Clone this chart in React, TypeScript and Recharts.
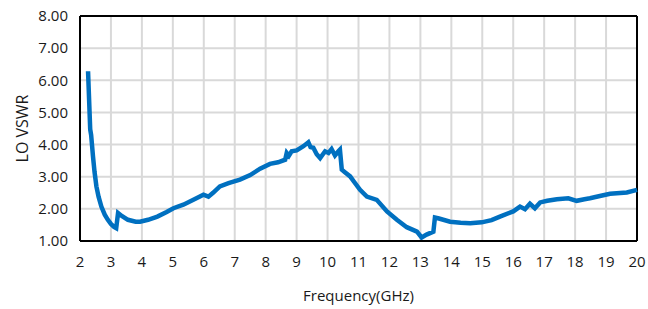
import React from "react";
import {
  LineChart,
  Line,
  XAxis,
  YAxis,
  CartesianGrid,
  ReferenceLine,
} from "recharts";

const freqGHz = [
  2.26, 2.33, 2.36, 2.42, 2.47, 2.53, 2.6, 2.69, 2.8, 2.9, 3.0, 3.1, 3.17,
  3.23, 3.35, 3.55, 3.8, 3.94, 4.2, 4.5, 4.8, 5.02, 5.34, 5.6, 5.99, 6.15,
  6.3, 6.52, 6.8, 7.17, 7.5, 7.82, 8.14, 8.4, 8.63, 8.68, 8.75, 8.84, 9.0,
  9.22, 9.38, 9.45, 9.54, 9.65, 9.76, 9.85, 9.92, 10.03, 10.13, 10.24, 10.35,
  10.4, 10.46, 10.55, 10.73, 10.85, 11.05, 11.27, 11.59, 11.92, 12.24, 12.56,
  12.89, 13.04, 13.2, 13.42, 13.47, 13.6, 13.96, 14.3, 14.61, 14.98, 15.3,
  15.57, 16.0, 16.22, 16.38, 16.54, 16.7, 16.87, 17.1, 17.41, 17.78, 18.05,
  18.3, 18.48, 18.8, 19.13, 19.67, 20,
];

const loVswr = [
  6.28, 4.47, 4.3, 3.63, 3.15, 2.7, 2.38, 2.07, 1.82, 1.66, 1.53, 1.44, 1.4,
  1.87, 1.78, 1.66, 1.6, 1.6, 1.66, 1.76, 1.9, 2.02, 2.13, 2.25, 2.44, 2.38,
  2.5, 2.7, 2.8, 2.91, 3.05, 3.25, 3.4, 3.45, 3.53, 3.74, 3.65, 3.79, 3.82,
  3.95, 4.07, 3.92, 3.9, 3.7, 3.58, 3.7, 3.79, 3.74, 3.86, 3.66, 3.79, 3.84,
  3.22, 3.15, 3.01, 2.85, 2.59, 2.38, 2.28, 1.92, 1.66, 1.43, 1.29, 1.11, 1.2,
  1.29, 1.73, 1.7, 1.6, 1.57, 1.55, 1.58, 1.65, 1.76, 1.92, 2.07, 1.99, 2.16,
  2.02, 2.2, 2.25, 2.3, 2.33, 2.25, 2.3, 2.33, 2.4, 2.47, 2.51, 2.59,
];

const xTicks = [2, 3, 4, 5, 6, 7, 8, 9, 10, 11, 12, 13, 14, 15, 16, 17, 18, 19, 20];
const yTicks = [1, 2, 3, 4, 5, 6, 7, 8];

const data = freqGHz.map((f, i) => ({ freq: f, vswr: loVswr[i] }));

const font = "'Open Sans', 'Noto Sans', sans-serif";

const App = () => {
  return (
    <div style={{ position: "absolute", left: 0, top: 0 }}>
      <LineChart
        width={648}
        height={309}
        data={data}
        margin={{ top: 16, right: 11, left: 0, bottom: 0 }}
        style={{ fontFamily: font }}
      >
        <CartesianGrid stroke="#d9d9d9" strokeWidth={2} />
        <XAxis
          dataKey="freq"
          type="number"
          domain={[2, 20]}
          ticks={xTicks}
          interval={0}
          height={68}
          tickSize={0}
          tickMargin={15}
          axisLine={{ stroke: "#000", strokeWidth: 2 }}
          tick={{ fill: "#1a1a1a", fontSize: 15 }}
          label={{
            value: "Frequency(GHz)",
            position: "insideBottom",
            offset: 8,
            fill: "#1a1a1a",
            fontSize: 15,
          }}
        />
        <YAxis
          type="number"
          domain={[1, 8]}
          ticks={yTicks}
          interval={0}
          width={80}
          tickSize={0}
          tickMargin={12}
          tickFormatter={(v: number) => v.toFixed(2)}
          axisLine={{ stroke: "#000", strokeWidth: 2 }}
          tick={{ fill: "#1a1a1a", fontSize: 15 }}
          label={{
            value: "LO VSWR",
            angle: -90,
            position: "insideLeft",
            offset: 22,
            style: { textAnchor: "middle" },
            fill: "#1a1a1a",
            fontSize: 16,
          }}
        />
        <ReferenceLine y={8} stroke="#000" strokeWidth={2} />
        <ReferenceLine x={20} stroke="#000" strokeWidth={2} />
        <Line
          type="linear"
          dataKey="vswr"
          stroke="#0070c0"
          strokeWidth={4.5}
          dot={false}
          isAnimationActive={false}
        />
      </LineChart>
    </div>
  );
};

export default App;
